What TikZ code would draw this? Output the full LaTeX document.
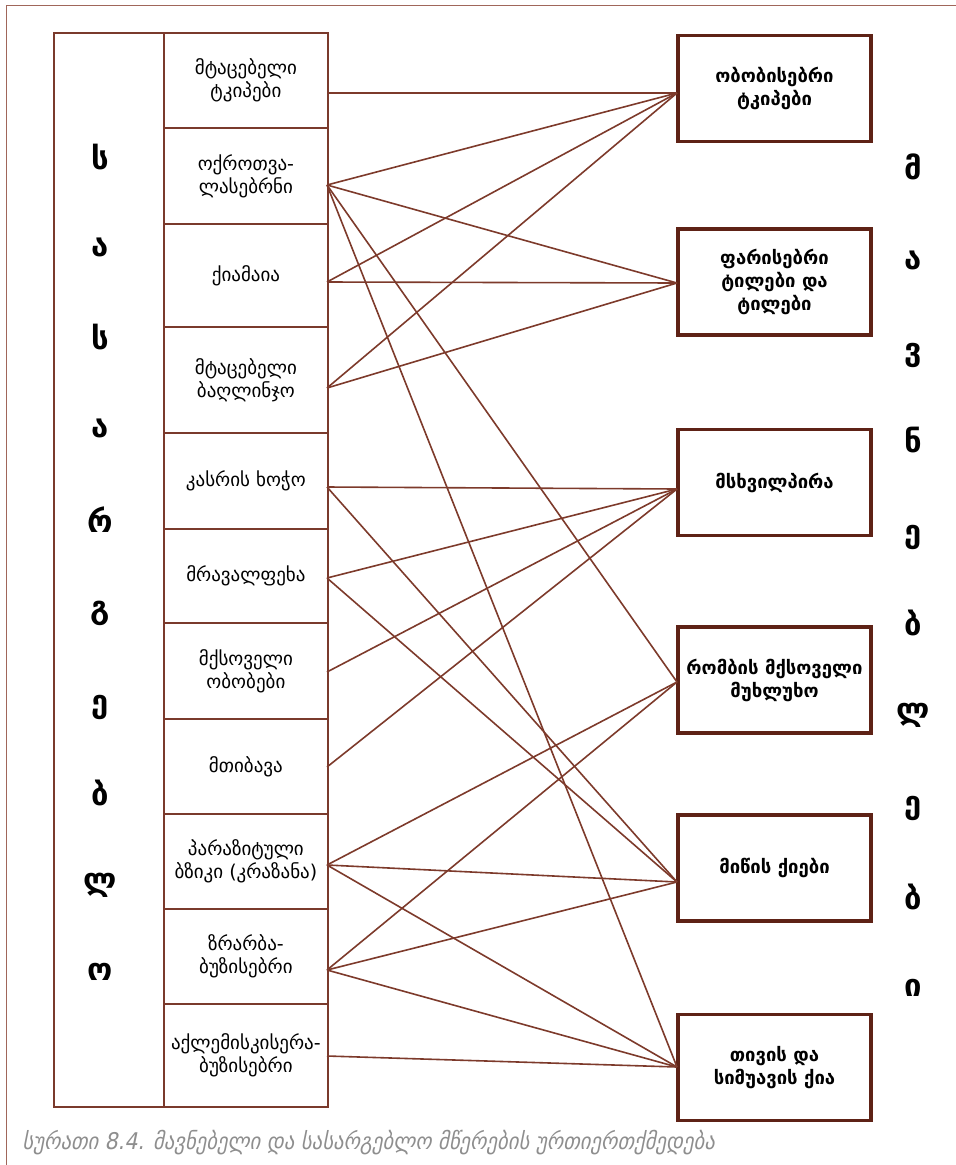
\documentclass[tikz,border=0pt]{standalone}
\usepackage{fontspec}
\setmainfont{DejaVu Sans}
\newfontfamily\capfont[FakeSlant=0.2]{DejaVu Sans Condensed}
\definecolor{boxline}{HTML}{7A3A2C}
\definecolor{heavyline}{HTML}{5E2216}
\definecolor{linkline}{HTML}{7D3A2B}
\definecolor{framec}{HTML}{A0665A}
\definecolor{capgray}{HTML}{8E8E8E}
\tikzset{
  lbox/.style={draw=boxline, line width=1.8pt, minimum width=164pt, anchor=north west,
    align=center, inner sep=0pt, font=\fontsize{19}{23}\selectfont},
  rbox/.style={draw=heavyline, line width=3.8pt, minimum width=193pt, minimum height=106pt,
    align=center, inner sep=0pt, font=\bfseries\fontsize{18.5}{23}\selectfont},
  vletter/.style={font=\bfseries\fontsize{31}{31}\selectfont, inner sep=0pt},
  conn/.style={draw=linkline, line width=1.6pt},
}
\begin{document}
\begin{tikzpicture}[x=1pt,y=-1pt]
\useasboundingbox (0,0) rectangle (956,1165);
% page frame
\coordinate (fa) at (6,1165);
\coordinate (fb) at (6,5);
\coordinate (fc) at (956,5);
\draw[framec, line width=1pt] (fa) -- (fb) -- (fc);

% left column holding the vertical word
\node[draw=boxline, line width=1.8pt, minimum width=110pt, minimum height=1074pt,
      anchor=north west, inner sep=0pt] (col) at (53,32) {};

% pest boxes
\node[lbox, minimum height=95pt]  (L1)  at (163,32)   {მტაცებელი\\ტკიპები};
\node[lbox, minimum height=96pt]  (L2)  at (163,127)  {ოქროთვა-\\ლასებრნი};
\node[lbox, minimum height=103pt] (L3)  at (163,223)  {ქიამაია};
\node[lbox, minimum height=106pt] (L4)  at (163,326)  {მტაცებელი\\ბაღლინჯო};
\node[lbox, minimum height=96pt]  (L5)  at (163,432)  {კასრის ხოჭო};
\node[lbox, minimum height=94pt]  (L6)  at (163,528)  {მრავალფეხა};
\node[lbox, minimum height=96pt]  (L7)  at (163,622)  {მქსოველი\\ობობები};
\node[lbox, minimum height=95pt]  (L8)  at (163,718)  {მთიბავა};
\node[lbox, minimum height=95pt]  (L9)  at (163,813)  {პარაზიტული\\ბზიკი (კრაზანა)};
\node[lbox, minimum height=95pt]  (L10) at (163,908)  {ზრარბა-\\ბუზისებრი};
\node[lbox, minimum height=103pt] (L11) at (163,1003) {აქლემისკისერა-\\ბუზისებრი};

% harmful insect boxes
\node[rbox] (R1) at (774.5,88.5) {ობობისებრი\\ტკიპები};
\node[rbox] (R2) at (774.5,282)  {ფარისებრი\\ტილები და\\ტილები};
\node[rbox] (R3) at (774.5,482.5){მსხვილპირა};
\node[rbox] (R4) at (774.5,680)  {რომბის მქსოველი\\მუხლუხო};
\node[rbox] (R5) at (774.5,868)  {მიწის ქიები};
\node[rbox] (R6) at (774.5,1067.5){თივის და\\სიმუავის ქია};

% vertical words
\foreach \ch/\yy [count=\i] in {ს/157,ა/247,ს/337,ა/428,რ/520,გ/613,ე/707,ბ/793,ლ/885,ო/972}
  \node[vletter] (u\i) at (100,\yy) {\ch};
\foreach \ch/\yy [count=\i] in {მ/167,ა/260,ვ/355,ნ/440,ე/537,ბ/623,ლ/715,ე/808,ბ/897,ი/988}
  \node[vletter] (w\i) at (913,\yy) {\ch};

% link ends on the box edges
\foreach \yy [count=\i] in {93,185,282,388,487,578,672,767,865,970,1056}
  \coordinate (p\i) at (327,\yy);
\foreach \yy [count=\i] in {93,283,489,682,882,1067}
  \coordinate (q\i) at (677,\yy);

% links
\foreach \a/\b in {1/1,2/1,2/2,2/4,2/6,3/1,3/2,4/1,4/2,5/3,5/5,6/3,6/5,7/3,8/3,
                   9/4,9/5,9/6,10/4,10/5,10/6,11/6}
  \draw[conn] (p\a) -- (q\b);

% caption
\node[anchor=west, inner sep=0pt, text=capgray, font=\capfont\fontsize{23}{26}\selectfont] (cap)
  at (22,1143) {სურათი 8.4. მავნებელი და სასარგებლო მწერების ურთიერთქმედება};
\end{tikzpicture}
\end{document}
